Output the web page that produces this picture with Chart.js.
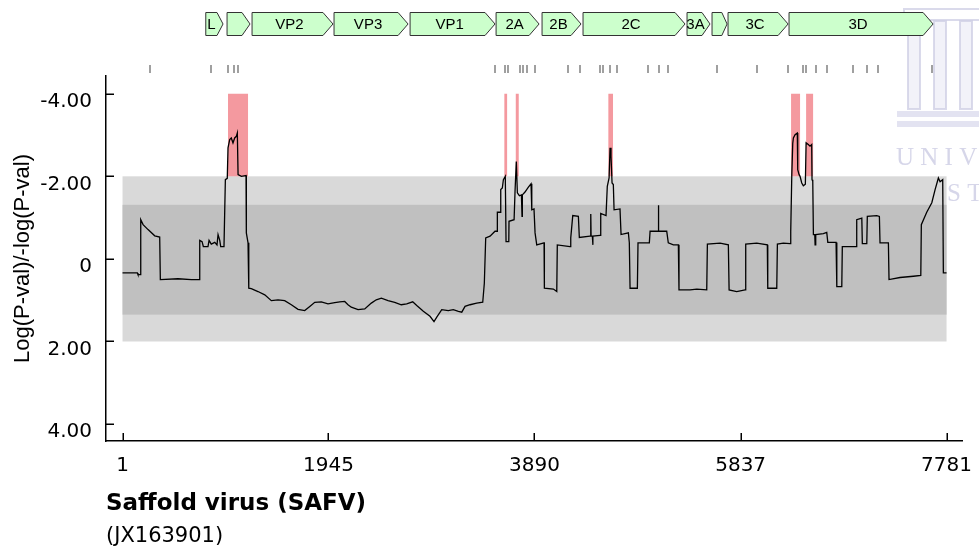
<!DOCTYPE html>
<html><head><meta charset="utf-8">
<script src="https://cdn.jsdelivr.net/npm/chart.js@4.4.1/dist/chart.umd.min.js"></script>
<style>html,body{margin:0;padding:0;background:#fff;}#wrap{width:979px;height:548px;}</style>
</head><body><div id="wrap"><canvas id="c" width="979" height="548"></canvas></div>
<script>
// ---- data ----
const positions = [1,141,147,169,173,195,242,305,352,358,525,651,726,730,752,764,808,818,839,872,893,903,919,928,959,972,990,997,1013,1028,1044,1060,1076,1085,1092,1123,1167,1170,1186,1193,1217,1280,1344,1406,1469,1532,1595,1658,1721,1769,1816,1878,1941,2005,2052,2099,2130,2161,2225,2288,2350,2397,2445,2508,2571,2633,2684,2741,2779,2841,2904,2942,2968,3015,3077,3124,3172,3204,3235,3282,3345,3402,3417,3430,3471,3518,3537,3540,3565,3572,3587,3597,3615,3622,3648,3650,3698,3707,3719,3729,3748,3767,3773,3776,3801,3833,3858,3865,3886,3896,3912,3981,3984,4069,4101,4106,4226,4233,4252,4305,4314,4415,4422,4425,4437,4441,4443,4510,4516,4566,4578,4595,4604,4613,4623,4635,4642,4698,4708,4777,4786,4793,4862,4868,4975,4982,5057,5060,5064,5139,5154,5202,5249,5255,5359,5423,5517,5523,5643,5721,5728,5800,5879,5885,5989,6089,6093,6178,6184,6240,6304,6310,6320,6329,6335,6351,6372,6376,6389,6398,6414,6429,6448,6455,6476,6492,6508,6511,6518,6524,6537,6540,6546,6618,6650,6660,6738,6745,6792,6797,6927,6933,6981,6986,7028,7033,7122,7147,7153,7232,7238,7342,7468,7538,7543,7594,7642,7673,7704,7720,7745,7751,7781];
const scores = [0.34,0.34,0.38,0.38,-0.95,-0.83,-0.71,-0.56,-0.53,0.50,0.48,0.50,0.50,-0.45,-0.42,-0.30,-0.30,-0.45,-0.36,-0.40,-0.34,-0.59,-0.45,-0.30,-0.30,-1.92,-1.95,-2.69,-2.89,-2.93,-2.81,-2.93,-2.97,-3.05,-2.04,-2.00,-2.02,-0.63,-0.39,0.71,0.72,0.79,0.87,1.01,0.99,1.01,1.11,1.22,1.25,1.15,1.05,1.04,1.09,1.06,1.04,1.03,1.11,1.17,1.23,1.21,1.07,0.99,0.95,1.01,1.05,1.11,1.09,1.04,1.13,1.27,1.39,1.52,1.41,1.23,1.25,1.23,1.27,1.29,1.15,1.11,1.07,1.05,0.59,-0.51,-0.55,-0.67,-0.67,-1.13,-1.13,-1.68,-1.72,-1.92,-2.00,-0.42,-0.42,-0.91,-0.95,-1.64,-2.36,-1.60,-1.53,-1.55,-1.03,-1.55,-1.62,-1.74,-1.82,-1.19,-1.21,-0.63,-0.34,-0.39,0.71,0.73,0.79,-0.34,-0.30,-0.51,-1.05,-1.03,-0.52,-0.55,-1.09,-0.55,-0.55,-0.34,-0.55,-0.57,-1.10,-1.05,-1.76,-1.96,-2.69,-2.49,-1.84,-1.80,-1.19,-1.21,-0.59,-0.63,-0.39,0.71,0.71,-0.39,-0.39,-0.67,-0.67,-1.30,-0.67,-0.67,-0.39,-0.34,-0.34,0.75,0.75,0.73,0.75,-0.36,-0.38,-0.34,0.75,0.79,0.75,-0.36,-0.38,-0.34,0.71,0.71,-0.36,-0.38,-0.37,-0.67,-2.04,-2.80,-2.93,-3.01,-3.05,-2.16,-2.04,-2.00,-1.84,-1.77,-1.81,-2.81,-2.77,-2.73,-2.77,-1.92,-1.88,-0.59,-0.59,-0.34,-0.59,-0.61,-0.64,-0.40,-0.40,0.67,0.67,-0.30,-0.30,-0.95,-0.99,-0.37,-0.37,-1.03,-1.05,-1.03,-0.39,-0.39,0.50,0.45,0.42,0.40,-0.83,-1.13,-1.36,-1.68,-1.96,-1.87,-1.92,0.34,0.34];
const xTicks = [1, 1945, 3890, 5837, 7781];
const yTicks = [-4, -2, 0, 2, 4];
const genomeRange = [1, 7781];
const outerBand = [-2, 2];
const innerBand = [-1.31, 1.35];
const sigLevel = [-4, -2];
const sigStarts = [997, 3606, 3714, 4588, 6313, 6455];
const sigEnds   = [1186, 3632, 3742, 4632, 6398, 6521];
const geneNames  = ['L', '', 'VP2', 'VP3', 'VP1', '2A', '2B', '2C', '3A', '', '3C', '3D'];
const geneStarts = [787, 988, 1224, 1998, 2716, 3528, 3962, 4349, 5331, 5567, 5718, 6294];
const geneEnds   = [950, 1205, 1988, 2697, 3518, 3934, 4330, 5312, 5548, 5709, 6285, 7654];
const siteMarks = [261,837,994,1057,1089,3518,3613,3644,3754,3785,3817,3896,4210,4321,4510,4541,4604,4673,4966,5067,5155,5611,5989,6288,6423,6455,6546,6650,6901,7033,7137,7642];
const virusName = 'Saffold virus (SAFV)';
const accession = '(JX163901)';
const yTitle = 'Log(P-val)/-log(P-val)';

const FONT = '"Liberation Sans", Arial, Helvetica, sans-serif';
const WIDE = '"DejaVu Sans", Verdana, sans-serif';

const decor = {
  id: 'decor',
  beforeDraw(chart) {
    const c = chart.ctx;
    c.save();
    c.strokeStyle = 'rgba(205,205,228,0.75)';
    c.fillStyle = 'rgba(236,236,246,0.7)';
    c.lineWidth = 2;
    // faint watermark building
    c.strokeRect(904, 9, 90, 11);
    [[908,920],[934,946],[960,972]].forEach(([a,b]) => { c.fillRect(a, 21, b-a, 88); c.strokeRect(a, 21, b-a, 88); });
    c.fillStyle = 'rgba(215,215,235,0.7)';
    c.fillRect(897, 111, 90, 6); c.fillRect(897, 121, 90, 6);
    c.fillStyle = 'rgba(200,200,226,0.75)';
    c.font = '25px "Liberation Serif", "DejaVu Serif", serif';
    c.textBaseline = 'alphabetic';
    c.fillText('U N I V', 896, 165);
    c.fillText('S T', 947, 201);
    c.restore();
  },
  beforeDatasetsDraw(chart) {
    const c = chart.ctx, xs = chart.scales.x, ys = chart.scales.y;
    const gx0 = xs.getPixelForValue(genomeRange[0]), gx1 = xs.getPixelForValue(genomeRange[1]);
    c.save();
    c.fillStyle = '#d9d9d9';
    let t = ys.getPixelForValue(outerBand[0]), b = ys.getPixelForValue(outerBand[1]);
    c.fillRect(gx0, t, gx1 - gx0, b - t);
    c.fillStyle = '#c0c0c0';
    t = ys.getPixelForValue(innerBand[0]); b = ys.getPixelForValue(innerBand[1]);
    c.fillRect(gx0, t, gx1 - gx0, b - t);
    c.fillStyle = 'rgba(238,100,110,0.66)';
    const st = ys.getPixelForValue(sigLevel[0]), sb = ys.getPixelForValue(sigLevel[1]);
    sigStarts.forEach((s, i) => {
      const a = xs.getPixelForValue(s), e = xs.getPixelForValue(sigEnds[i]);
      c.fillRect(a, st, e - a, sb - st);
    });
    c.restore();
  },
  afterDraw(chart) {
    const c = chart.ctx, xs = chart.scales.x, ys = chart.scales.y, ca = chart.chartArea;
    c.save();
    // inward tick marks
    c.strokeStyle = '#000'; c.lineWidth = 1.5;
    yTicks.forEach(v => { const p = Math.round(ys.getPixelForValue(v)) + 0.25; c.beginPath(); c.moveTo(ca.left, p); c.lineTo(ca.left + 8, p); c.stroke(); });
    xTicks.forEach(v => { const p = Math.round(xs.getPixelForValue(v)) + 0.25; c.beginPath(); c.moveTo(p, ca.bottom); c.lineTo(p, ca.bottom - 8); c.stroke(); });
    // gene map arrows
    const top = 12.5, bot = 35.5, mid = (top + bot) / 2;
    c.lineWidth = 1; c.strokeStyle = '#333';
    c.font = '15px ' + FONT; c.textAlign = 'center'; c.textBaseline = 'middle';
    geneStarts.forEach((s, i) => {
      const a = xs.getPixelForValue(s), e = xs.getPixelForValue(geneEnds[i]);
      const tip = Math.min(10, (e - a) * 0.35);
      c.beginPath();
      c.moveTo(a, top); c.lineTo(e - tip, top); c.lineTo(e, mid); c.lineTo(e - tip, bot); c.lineTo(a, bot); c.closePath();
      c.fillStyle = '#ccffcc'; c.fill(); c.stroke();
      if (geneNames[i]) { c.fillStyle = '#000'; c.fillText(geneNames[i], (a + e) / 2 - 3, mid + 0.5); }
    });
    // site marks
    c.strokeStyle = '#a0a0a0'; c.lineWidth = 2;
    siteMarks.forEach(s => { const p = Math.round(xs.getPixelForValue(s)); c.beginPath(); c.moveTo(p, 65); c.lineTo(p, 73); c.stroke(); });
    // accession subtitle
    c.fillStyle = '#000'; c.textAlign = 'left'; c.textBaseline = 'alphabetic';
    c.font = '21px ' + WIDE;
    c.fillText(accession, ca.left, 542);
    c.restore();
  }
};

new Chart(document.getElementById('c'), {
  type: 'line',
  data: { datasets: [{
    data: positions.map((p, i) => ({ x: p, y: scores[i] })),
    borderColor: '#000', borderWidth: 1.3, pointRadius: 0, tension: 0, fill: false
  }]},
  options: {
    responsive: false, animation: false, devicePixelRatio: 1,
    layout: { padding: { top: 76, right: 17, left: 0, bottom: 0 } },
    plugins: { legend: { display: false }, tooltip: { enabled: false } },
    scales: {
      x: {
        type: 'linear', min: -155, max: 7927,
        afterBuildTicks: s => { s.ticks = xTicks.map(v => ({ value: v })); },
        afterFit: s => { s.height = 107; },
        grid: { display: false },
        border: { display: true, color: '#000', width: 1.5 },
        ticks: { autoSkip: false, maxRotation: 0, padding: 5, color: '#000', font: { family: WIDE, size: 20 }, callback: v => String(v) },
        title: { display: true, text: virusName, align: 'start', color: '#000', font: { family: WIDE, size: 23, weight: 'bold' }, padding: { top: 0, bottom: 30 } }
      },
      y: {
        type: 'linear', reverse: true, min: -4.43, max: 4.41,
        afterBuildTicks: s => { s.ticks = yTicks.map(v => ({ value: v })); },
        afterFit: s => { s.width = 106; },
        grid: { display: false },
        border: { display: true, color: '#000', width: 1.5 },
        ticks: { padding: 6, labelOffset: 8, color: '#000', font: { family: WIDE, size: 20 }, callback: v => v === 0 ? '0' : Number(v).toFixed(2) },
        title: { display: true, text: yTitle, color: '#000', font: { family: FONT, size: 22 }, padding: { top: 10, bottom: 0 } }
      }
    }
  },
  plugins: [decor]
});
</script></body></html>
